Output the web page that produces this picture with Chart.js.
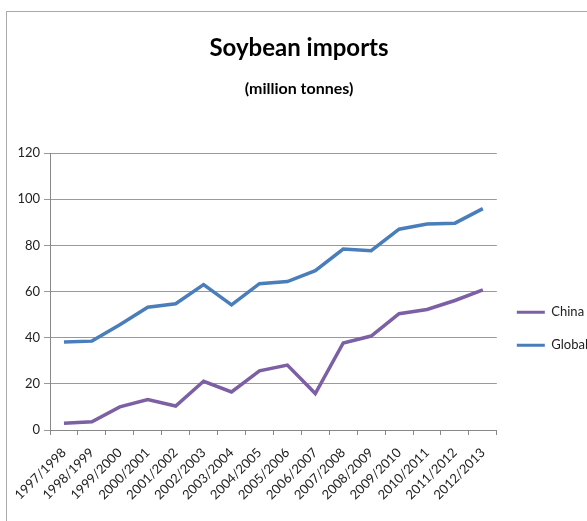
<!DOCTYPE html>
<html>
<head>
<meta charset="utf-8">
<script src="https://cdn.jsdelivr.net/npm/chart.js@4.4.0/dist/chart.umd.min.js"></script>
<style>
  html, body { margin: 0; padding: 0; background: #fff; overflow: hidden; }
  #wrap { position: relative; width: 587px; height: 521px; overflow: hidden; }
  #frame { position: absolute; left: 6px; top: 11px; right: -5px; bottom: -5px;
           border-left: 1px solid #aaa; border-top: 1px solid #aaa; }
  canvas { position: absolute; left: 0; top: 0; }
</style>
</head>
<body>
<div id="wrap">
  <div id="frame"></div>
  <canvas id="chart" width="587" height="521"></canvas>
</div>
<script>
const years = ['1997/1998','1998/1999','1999/2000','2000/2001','2001/2002','2002/2003',
  '2003/2004','2004/2005','2005/2006','2006/2007','2007/2008','2008/2009',
  '2009/2010','2010/2011','2011/2012','2012/2013'];
const china = [2.9, 3.6, 10, 13.2, 10.4, 21.1, 16.5, 25.6, 28.1, 15.8, 37.7, 40.7, 50.4, 52.2, 56.1, 60.7];
const global = [38.1, 38.5, 45.6, 53.2, 54.7, 63, 54.2, 63.4, 64.3, 69, 78.4, 77.7, 87, 89.2, 89.6, 95.9];
const yTicks = [0, 20, 40, 60, 80, 100, 120];

const fontFam = 'Lato, "Open Sans", sans-serif';

window.onload = function() {
  const data = {
    labels: years,
    datasets: [{
      label: 'China',
      data: china,
      borderColor: '#7d5fa3',
      backgroundColor: '#7d5fa3',
      borderWidth: 3.5,
      pointRadius: 0,
      tension: 0
    },
    {
      label: 'Global',
      data: global,
      borderColor: '#4a7ebb',
      backgroundColor: '#4a7ebb',
      borderWidth: 3.5,
      pointRadius: 0,
      tension: 0
    }]
  };

  const config = {
    type: 'line',
    data: data,
    options: {
      responsive: false,
      animation: false,
      layout: { padding: { left: 0, right: -11, top: 34, bottom: 4 } },
      plugins: {
        title: {
          display: true,
          text: 'Soybean imports',
          color: '#000',
          font: { family: fontFam, size: 24, weight: 'bold' },
          padding: { top: 0, bottom: 16 }
        },
        subtitle: {
          display: true,
          text: '(million tonnes)',
          color: '#000',
          font: { family: fontFam, size: 16, weight: 'bold' },
          padding: { top: 0, bottom: 55 }
        },
        legend: {
          position: 'right',
          title: { display: true, text: '', padding: { top: 0, bottom: 92 } },
          labels: {
            color: '#222',
            font: { family: fontFam, size: 13 },
            boxWidth: 28,
            boxHeight: 3,
            padding: 20,
            generateLabels: function(chart) {
              const items = Chart.defaults.plugins.legend.labels.generateLabels(chart);
              items.forEach(it => { it.lineWidth = 0; });
              return items;
            }
          }
        },
        tooltip: { enabled: false }
      },
      scales: {
        x: {
          offset: true,
          afterFit: function(axis) { axis.height = 87; },
          grid: { offset: true, drawOnChartArea: false, drawTicks: true, tickLength: 5, color: '#888' },
          border: { color: '#888' },
          ticks: {
            color: '#222',
            font: { family: fontFam, size: 13 },
            maxRotation: 45,
            minRotation: 45,
            padding: 10,
            autoSkip: false
          }
        },
        y: {
          min: 0,
          max: 120,
          afterFit: function(axis) { axis.width = 50; },
          afterBuildTicks: function(axis) {
            axis.ticks = yTicks.map(v => ({ value: v }));
          },
          grid: { color: '#999', tickLength: 6 },
          border: { color: '#888' },
          ticks: {
            color: '#222',
            font: { family: fontFam, size: 13 },
            padding: 4
          }
        }
      }
    }
  };

  new Chart(document.getElementById('chart'), config);
};
</script>
</body>
</html>
